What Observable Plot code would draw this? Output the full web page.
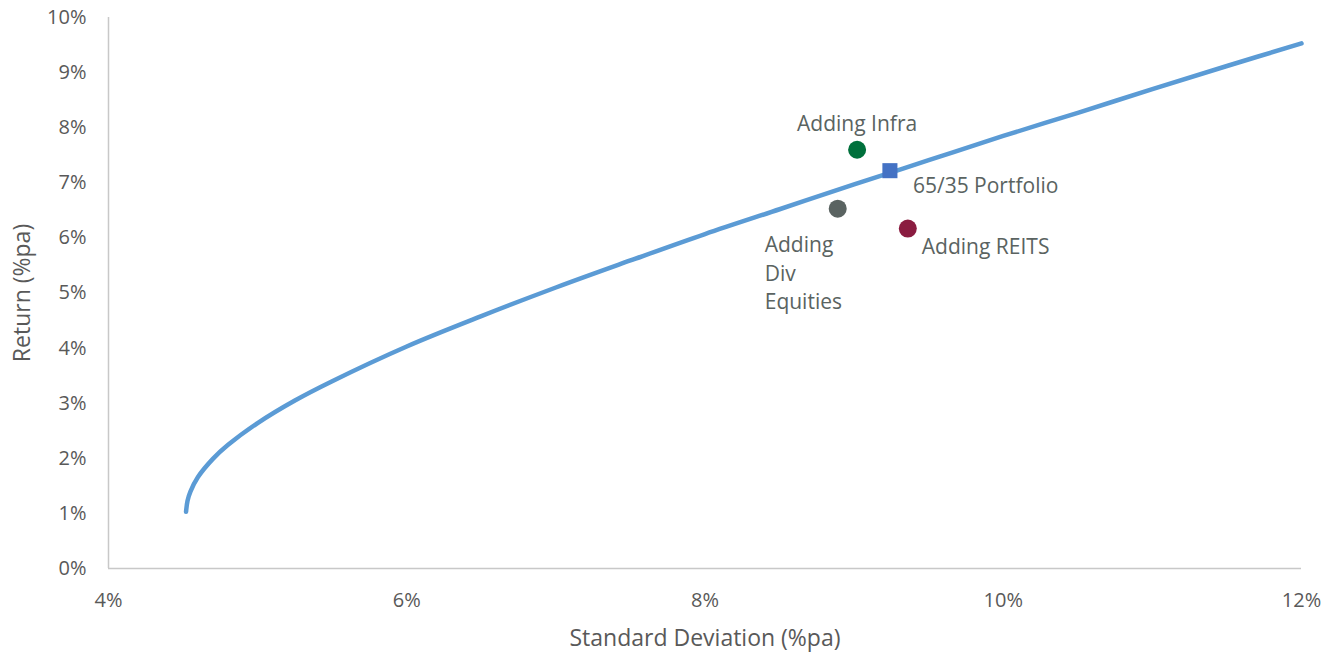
<!DOCTYPE html>
<html>
<head>
<meta charset="utf-8">
<script src="https://cdn.jsdelivr.net/npm/d3@7"></script>
<script src="https://cdn.jsdelivr.net/npm/@observablehq/plot@0.6"></script>
<style>
  html, body { margin: 0; padding: 0; background: #fff; }
  #chart { width: 1337px; height: 653px; }
</style>
</head>
<body>
<div id="chart"></div>
<script>
// Efficient frontier (standard deviation %, return %)
const frontierSigma = [4.52, 4.53, 4.55, 4.6, 4.7, 4.8, 5.0, 5.25, 5.5, 6.0, 6.5, 7.0, 7.5, 8.0, 8.5, 9.0, 9.5, 10.0, 10.5, 11.0, 11.5, 12.0];
const frontierReturn = [1.03, 1.23, 1.40, 1.66, 1.99, 2.24, 2.64, 3.05, 3.40, 4.03, 4.58, 5.10, 5.59, 6.07, 6.52, 6.97, 7.41, 7.85, 8.27, 8.70, 9.12, 9.53];

// Portfolios
const portfolioNames = ["Adding Infra", "65/35 Portfolio", "Adding Div Equities", "Adding REITS"];
const portfolioSigma = [9.02, 9.24, 8.89, 9.36];
const portfolioReturn = [7.60, 7.22, 6.53, 6.17];
const portfolioColors = ["#00703C", "#4472C4", "#5A6361", "#8A1C40"];

const xTicks = [4, 6, 8, 10, 12];
const yTicks = [0, 1, 2, 3, 4, 5, 6, 7, 8, 9, 10];

const frontier = frontierSigma.map((s, i) => ({ s, r: frontierReturn[i] }));
const portfolios = portfolioNames.map((name, i) => ({
  name, s: portfolioSigma[i], r: portfolioReturn[i], color: portfolioColors[i]
}));
const circles = portfolios.filter(d => d.name !== "65/35 Portfolio");
const squares = portfolios.filter(d => d.name === "65/35 Portfolio");
const pick = n => portfolios.filter(d => d.name === n);

const textColor = "#595959";
const labelFont = { fontSize: 21, fill: "#5A6361", fontFamily: "Open Sans" };

const chart = Plot.plot({
  width: 1337,
  height: 653,
  marginLeft: 108,
  marginRight: 36,
  marginTop: 17,
  marginBottom: 85,
  style: { fontFamily: "Open Sans", fontSize: "20px", color: textColor, background: "#fff" },
  x: { domain: [4, 12] },
  y: { domain: [0, 10] },
  marks: [
    Plot.ruleX([4], { stroke: "#c8c8c8", strokeWidth: 1.5 }),
    Plot.ruleY([0], { stroke: "#c8c8c8", strokeWidth: 1.5 }),
    Plot.axisX({ ticks: xTicks, tickSize: 0, tickPadding: 24, tickFormat: d => d + "%", label: null, fill: textColor, fontSize: 20 }),
    Plot.axisY({ ticks: yTicks, tickSize: 0, tickPadding: 22, tickFormat: d => d + "%", label: null, fill: textColor, fontSize: 20 }),
    Plot.text(["Standard Deviation (%pa)"], { frameAnchor: "bottom", dy: 70, textAnchor: "middle", lineAnchor: "middle", fontSize: 23, fill: textColor }),
    Plot.text(["Return (%pa)"], { frameAnchor: "left", dx: -86, rotate: -90, textAnchor: "middle", lineAnchor: "middle", fontSize: 23, fill: textColor }),
    Plot.line(frontier, { x: "s", y: "r", stroke: "#5B9BD5", strokeWidth: 4.5, curve: "catmull-rom", strokeLinecap: "round" }),
    Plot.dot(circles, { x: "s", y: "r", fill: "color", r: 9 }),
    Plot.dot(squares, { x: "s", y: "r", fill: "color", symbol: "square", r: 8.5 }),
    Plot.text(pick("Adding Infra"), { x: "s", y: "r", text: "name", dy: -25, textAnchor: "middle", ...labelFont }),
    Plot.text(pick("65/35 Portfolio"), { x: "s", y: "r", text: "name", dx: 23, dy: 16, textAnchor: "start", ...labelFont }),
    Plot.text(pick("Adding REITS"), { x: "s", y: "r", text: "name", dx: 14, dy: 19, textAnchor: "start", ...labelFont }),
    Plot.text(pick("Adding Div Equities"), { x: "s", y: "r", text: d => "Adding\nDiv\nEquities", dx: -73, dy: 63, lineHeight: 1.36, textAnchor: "start", ...labelFont })
  ]
});
document.getElementById("chart").appendChild(chart);
</script>
</body>
</html>
